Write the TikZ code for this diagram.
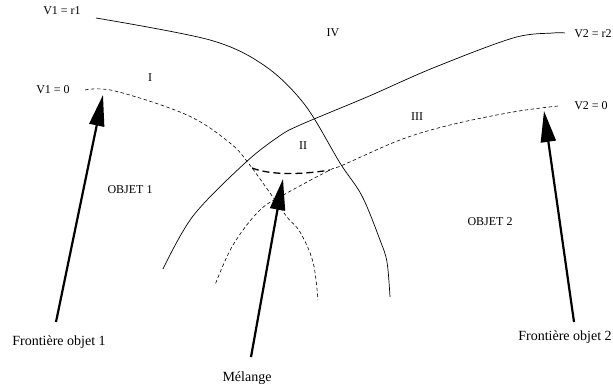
\documentclass[tikz,border=0pt]{standalone}
\usepackage{fontspec}
\setmainfont{Liberation Serif}
\usetikzlibrary{arrows.meta}
\begin{document}
\begin{tikzpicture}[x=1pt,y=-1pt,
  lbl/.style={inner sep=0pt,font=\fontsize{12}{14}\selectfont},
  biglbl/.style={inner sep=0pt,font=\fontsize{14}{16}\selectfont},
  solidcurve/.style={line width=0.7pt},
  thindash/.style={line width=0.6pt,dash pattern=on 3.5pt off 2.5pt},
  thickdash/.style={line width=1.3pt,dash pattern=on 7pt off 4pt},
  bigarrow/.style={line width=2.2pt,-{Triangle[length=31pt,width=15pt]}}]
\useasboundingbox (0,0) rectangle (613,388);
% labels
\node[lbl] (vr1) at (62,11) {V1 = r1};
\node[lbl] (iv) at (333,33) {IV};
\node[lbl] (vr2) at (593,34) {V2 = r2};
\node[lbl] (i) at (150,78) {I};
\node[lbl] (v10) at (53,90) {V1 = 0};
\node[lbl] (ii) at (303,146) {II};
\node[lbl] (iii) at (417,117) {III};
\node[lbl] (v20) at (591,106) {V2 = 0};
\node[lbl] (o1) at (130,190) {OBJET 1};
\node[lbl] (o2) at (490,222) {OBJET 2};
\node[biglbl] (f1) at (59,342) {Frontière objet 1};
\node[biglbl] (mel) at (247,378) {Mélange};
\node[biglbl] (f2) at (565,337) {Frontière objet 2};
% curves
\draw[solidcurve] plot[smooth,tension=0.55] coordinates {(96,18) (210,40) (265,66) (305,105) (340,163) (362,196) (380,240) (387,262) (390,297)};
\draw[solidcurve] plot[smooth,tension=0.55] coordinates {(163,269) (193,216) (245,163) (278,137) (300,125) (367,97) (433,68) (513,38) (553,33) (565,33)};
\draw[thindash] plot[smooth,tension=0.6] coordinates {(85,90) (115,91) (187,115) (230,143) (249,164) (270,193) (287,217) (300,232) (313,262) (318,300)};
\draw[thindash] plot[smooth,tension=0.6] coordinates {(558,106) (513,112) (450,125) (400,140) (343,165) (330,170) (287,193) (260,210) (233,245) (215,285)};
\draw[thickdash] (252,168) .. controls (270,175) and (300,175) .. (330,170);
% arrows
\coordinate (a1s) at (56,322);
\coordinate (a1e) at (103,95);
\coordinate (a2s) at (251,357);
\coordinate (a2e) at (283,179);
\coordinate (a3s) at (574,322);
\coordinate (a3e) at (544,111);
\draw[bigarrow] (a1s) -- (a1e);
\draw[bigarrow] (a2s) -- (a2e);
\draw[bigarrow] (a3s) -- (a3e);
\end{tikzpicture}
\end{document}
